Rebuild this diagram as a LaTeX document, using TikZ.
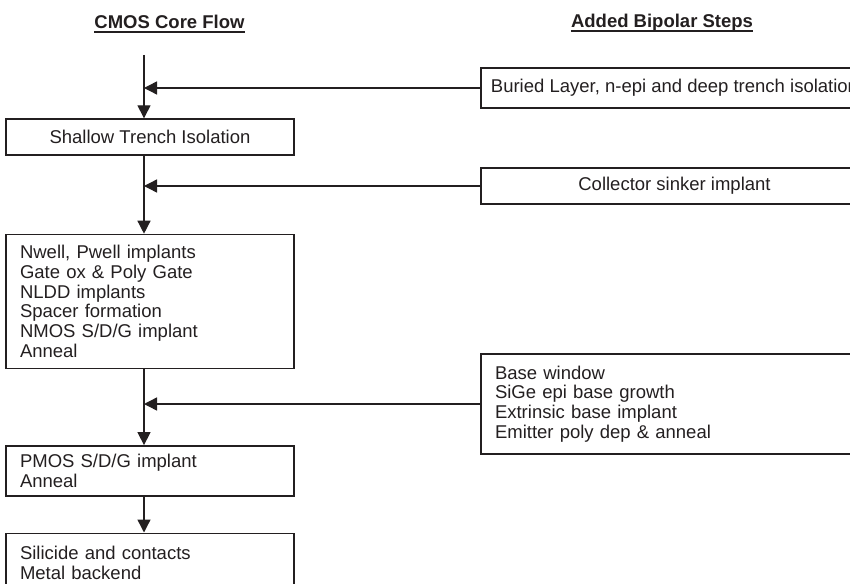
\documentclass[tikz,border=0pt]{standalone}
\usepackage{fontspec}
\setmainfont{Liberation Sans}
\usetikzlibrary{positioning,arrows.meta}

\definecolor{ink}{RGB}{35,31,32}

\tikzset{
  txt/.style={font=\fontsize{18.5pt}{19.8pt}\selectfont, text=ink},
  heading/.style={txt, font=\fontsize{18.5pt}{19.8pt}\selectfont\bfseries,
                  inner xsep=0pt, inner ysep=3pt, text depth=0pt},
  rule/.style={draw=ink, line width=1.6pt},
  corebox/.style={txt, draw=ink, line width=1.4pt, inner sep=0pt, minimum width=288pt},
  sidebox/.style={txt, draw=ink, line width=1.4pt, inner sep=0pt, minimum width=387pt},
  flow/.style={draw=ink, line width=1.4pt, -{Triangle[length=13pt,width=13pt]}},
}

\begin{document}
\begin{tikzpicture}[x=1pt, y=-1pt]
  \useasboundingbox (0,0) rectangle (850,583);
  \clip (0,0) rectangle (850,583);

  % column headings
  \node[heading, anchor=south] (cmos) at (169.5,32) {CMOS Core Flow};
  \node[heading, anchor=south] (bip)  at (662,31)   {Added Bipolar Steps};
  \draw[rule] (cmos.south west) -- (cmos.south east);
  \draw[rule] (bip.south west) -- (bip.south east);

  % core CMOS flow
  \coordinate (top) at (144,55);
  \node[corebox, minimum height=36pt] (sti) at (150,137) {Shallow Trench Isolation};
  \node[corebox, minimum height=134pt, text width=260pt, align=left, below=78pt of sti] (wells)
    {Nwell, Pwell implants\\Gate ox \& Poly Gate\\NLDD implants\\Spacer formation\\NMOS S/D/G implant\\Anneal};
  \node[corebox, minimum height=50pt, text width=260pt, align=left, below=76pt of wells] (pmos)
    {PMOS S/D/G implant\\Anneal};
  \node[corebox, minimum height=60pt, text width=260pt, align=left, below=36pt of pmos] (sil)
    {Silicide and contacts\\Metal backend};

  % bipolar additions
  \node[sidebox, minimum height=40pt] (buried) at (674.5,88) {Buried Layer, n-epi and deep trench isolation};
  \node[sidebox, minimum height=36pt] (sinker) at (674.5,186) {Collector sinker implant};
  \node[sidebox, minimum height=100pt, text width=359pt, align=left] (sige) at (674.5,404)
    {Base window\\SiGe epi base growth\\Extrinsic base implant\\Emitter poly dep \& anneal};

  % main line
  \draw[flow] (top) -- (top |- sti.north);
  \draw[flow] (top |- sti.south) -- (top |- wells.north);
  \draw[flow] (top |- wells.south) -- (top |- pmos.north);
  \draw[flow] (top |- pmos.south) -- (top |- sil.north);

  % feeds from the right
  \draw[flow] (buried.west) -- (buried.west -| top);
  \draw[flow] (sinker.west) -- (sinker.west -| top);
  \draw[flow] (sige.west) -- (sige.west -| top);
\end{tikzpicture}
\end{document}
